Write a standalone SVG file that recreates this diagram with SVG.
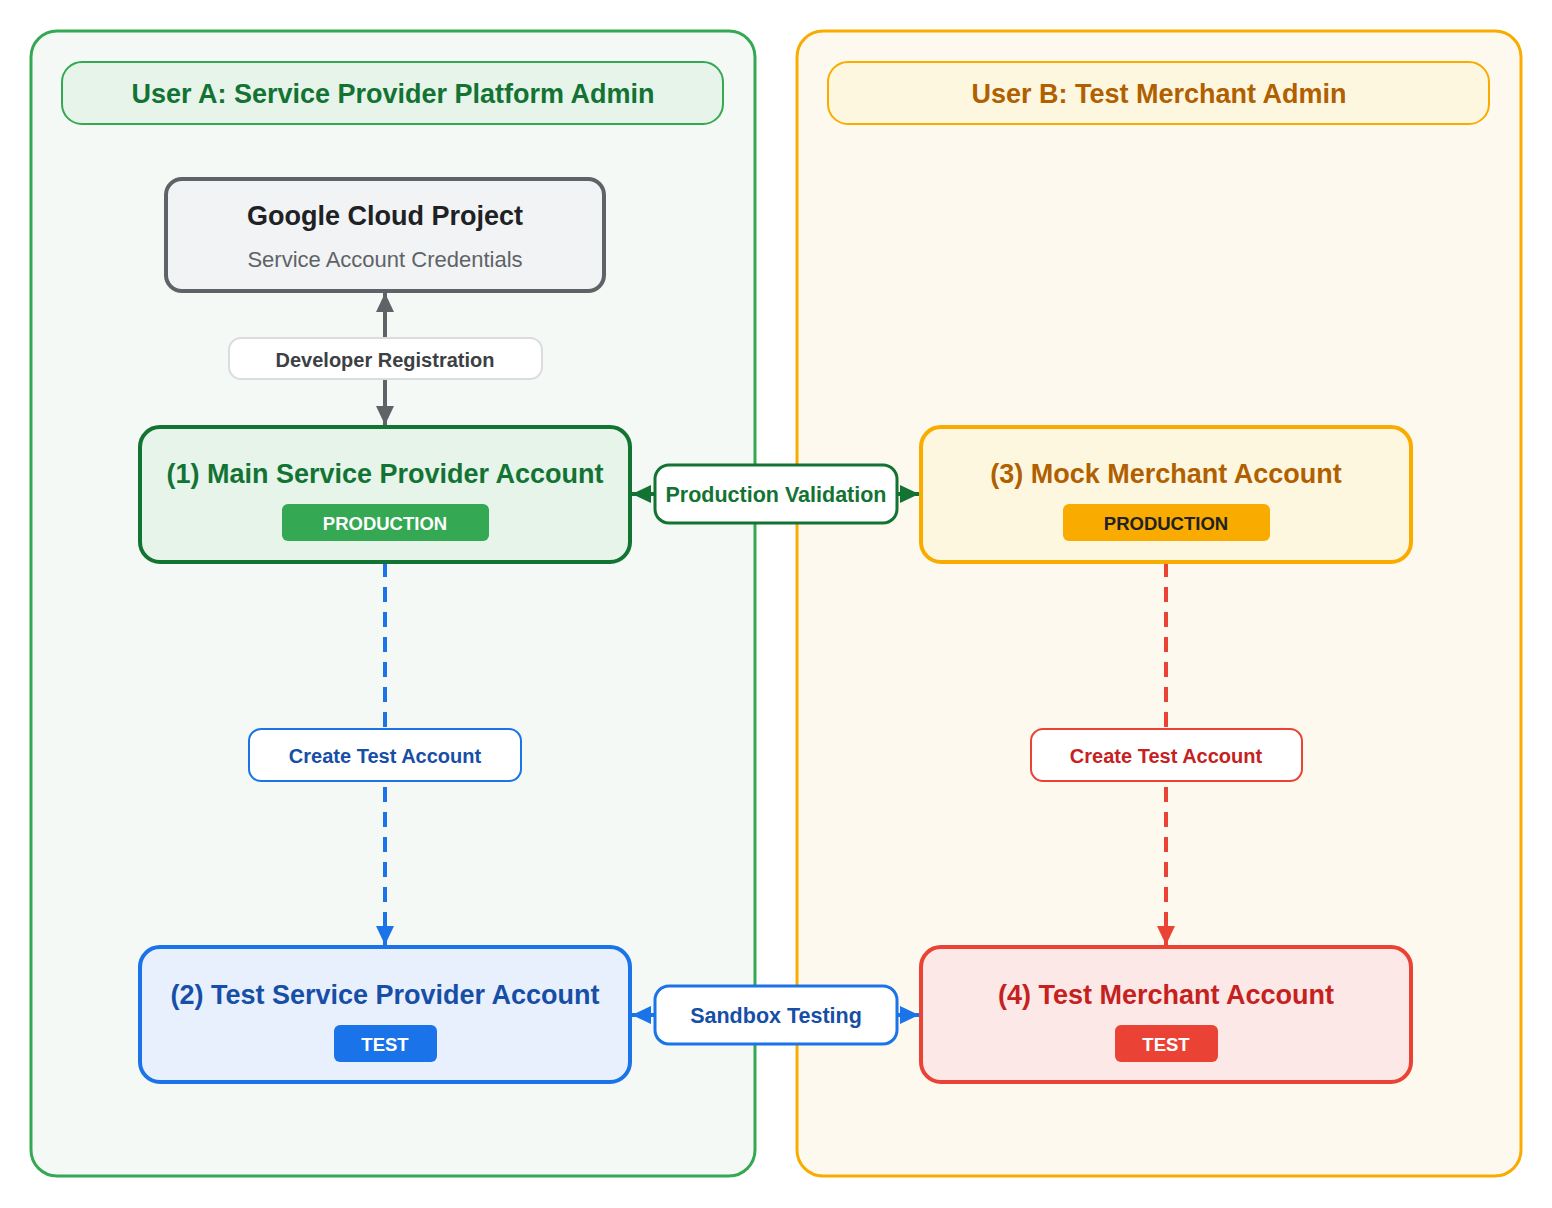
<svg xmlns="http://www.w3.org/2000/svg" width="1552" height="1208" viewBox="0 0 1552 1208">
<style>
text{font-family:"Liberation Sans",Arial,Helvetica,sans-serif;text-anchor:middle;dominant-baseline:central}
.hdr{font-size:27px;font-weight:bold}
.title{font-size:27px;font-weight:bold}
.badge{font-size:18.5px;font-weight:bold}
.lbl{font-size:20px;font-weight:bold}
.lbl2{font-size:21.5px;font-weight:bold}
</style>
<defs>
<marker id="ag" markerUnits="userSpaceOnUse" markerWidth="22" markerHeight="22" viewBox="0 0 22 22" refX="19" refY="11" orient="auto-start-reverse"><path d="M0,2 L19,11 L0,20 Z" fill="#5f6368"/></marker>
<marker id="agr" markerUnits="userSpaceOnUse" markerWidth="22" markerHeight="22" viewBox="0 0 22 22" refX="19" refY="11" orient="auto-start-reverse"><path d="M0,2 L19,11 L0,20 Z" fill="#137333"/></marker>
<marker id="ab" markerUnits="userSpaceOnUse" markerWidth="22" markerHeight="22" viewBox="0 0 22 22" refX="19" refY="11" orient="auto-start-reverse"><path d="M0,2 L19,11 L0,20 Z" fill="#1a73e8"/></marker>
<marker id="ar" markerUnits="userSpaceOnUse" markerWidth="22" markerHeight="22" viewBox="0 0 22 22" refX="19" refY="11" orient="auto-start-reverse"><path d="M0,2 L19,11 L0,20 Z" fill="#ea4335"/></marker>
</defs>
<rect width="1552" height="1208" fill="#ffffff"/>

<g id="laneA">
<rect x="31" y="31" width="724" height="1145" rx="26" fill="#f4f9f5" stroke="#34a853" stroke-width="3"/>
<rect x="62" y="62" width="661" height="62" rx="20" fill="#e6f4ea" stroke="#34a853" stroke-width="2"/>
<text x="393" y="94" class="hdr" fill="#137333">User A: Service Provider Platform Admin</text>
</g>
<g id="laneB">
<rect x="797" y="31" width="724" height="1145" rx="26" fill="#fef9ee" stroke="#f9ab00" stroke-width="3"/>
<rect x="828" y="62" width="661" height="62" rx="20" fill="#fef7e0" stroke="#f9ab00" stroke-width="2"/>
<text x="1159" y="94" class="hdr" fill="#b06000">User B: Test Merchant Admin</text>
</g>

<g id="connectors">
<line x1="385" y1="293" x2="385" y2="425" stroke="#5f6368" stroke-width="4" marker-start="url(#ag)" marker-end="url(#ag)"/>
<line x1="632" y1="494" x2="919" y2="494" stroke="#137333" stroke-width="4" marker-start="url(#agr)" marker-end="url(#agr)"/>
<line x1="632" y1="1015" x2="919" y2="1015" stroke="#1a73e8" stroke-width="4" marker-start="url(#ab)" marker-end="url(#ab)"/>
<line x1="385" y1="562" x2="385" y2="945" stroke="#1a73e8" stroke-width="4" stroke-dasharray="15,10" marker-end="url(#ab)"/>
<line x1="1166" y1="562" x2="1166" y2="945" stroke="#ea4335" stroke-width="4" stroke-dasharray="15,10" marker-end="url(#ar)"/>
<g id="lbl-dev">
<rect x="229" y="338" width="313" height="41" rx="12" fill="#ffffff" stroke="#dadce0" stroke-width="2"/>
<text x="385" y="360" class="lbl" fill="#3c4043">Developer Registration</text>
</g>
<g id="lbl-prod">
<rect x="655" y="465" width="242" height="58" rx="14" fill="#ffffff" stroke="#137333" stroke-width="3"/>
<text x="776" y="495" class="lbl2" fill="#137333">Production Validation</text>
</g>
<g id="lbl-sandbox">
<rect x="655" y="986" width="242" height="58" rx="14" fill="#ffffff" stroke="#1a73e8" stroke-width="3"/>
<text x="776" y="1016" class="lbl2" fill="#174ea6">Sandbox Testing</text>
</g>
<g id="lbl-create-a">
<rect x="249" y="729" width="272" height="52" rx="12" fill="#ffffff" stroke="#1a73e8" stroke-width="2"/>
<text x="385" y="756" class="lbl" fill="#174ea6">Create Test Account</text>
</g>
<g id="lbl-create-b">
<rect x="1031" y="729" width="271" height="52" rx="12" fill="#ffffff" stroke="#ea4335" stroke-width="2"/>
<text x="1166" y="756" class="lbl" fill="#c5221f">Create Test Account</text>
</g>
</g>

<g id="gcp">
<rect x="166" y="179" width="438" height="112" rx="16" fill="#f1f3f4" stroke="#5f6368" stroke-width="4"/>
<text x="385" y="216" class="title" fill="#202124">Google Cloud Project</text>
<text x="385" y="259" font-size="22" fill="#5f6368">Service Account Credentials</text>
</g>

<g id="node1">
<rect x="140" y="427" width="490" height="135" rx="20" fill="#e6f4ea" stroke="#137333" stroke-width="4"/>
<text x="385" y="474" class="title" fill="#137333">(1) Main Service Provider Account</text>
<rect x="282" y="504" width="207" height="37" rx="6" fill="#34a853"/>
<text x="385" y="523" class="badge" fill="#ffffff">PRODUCTION</text>
</g>

<g id="node2">
<rect x="140" y="947" width="490" height="135" rx="20" fill="#e8f0fe" stroke="#1a73e8" stroke-width="4"/>
<text x="385" y="995" class="title" fill="#174ea6">(2) Test Service Provider Account</text>
<rect x="334" y="1025" width="103" height="37" rx="6" fill="#1a73e8"/>
<text x="385" y="1044" class="badge" fill="#ffffff">TEST</text>
</g>

<g id="node3">
<rect x="921" y="427" width="490" height="135" rx="20" fill="#fef7e0" stroke="#f9ab00" stroke-width="4"/>
<text x="1166" y="474" class="title" fill="#b06000">(3) Mock Merchant Account</text>
<rect x="1063" y="504" width="207" height="37" rx="6" fill="#f9ab00"/>
<text x="1166" y="523" class="badge" fill="#202124">PRODUCTION</text>
</g>

<g id="node4">
<rect x="921" y="947" width="490" height="135" rx="20" fill="#fce8e6" stroke="#ea4335" stroke-width="4"/>
<text x="1166" y="995" class="title" fill="#c5221f">(4) Test Merchant Account</text>
<rect x="1115" y="1025" width="103" height="37" rx="6" fill="#ea4335"/>
<text x="1166" y="1044" class="badge" fill="#ffffff">TEST</text>
</g>
</svg>
